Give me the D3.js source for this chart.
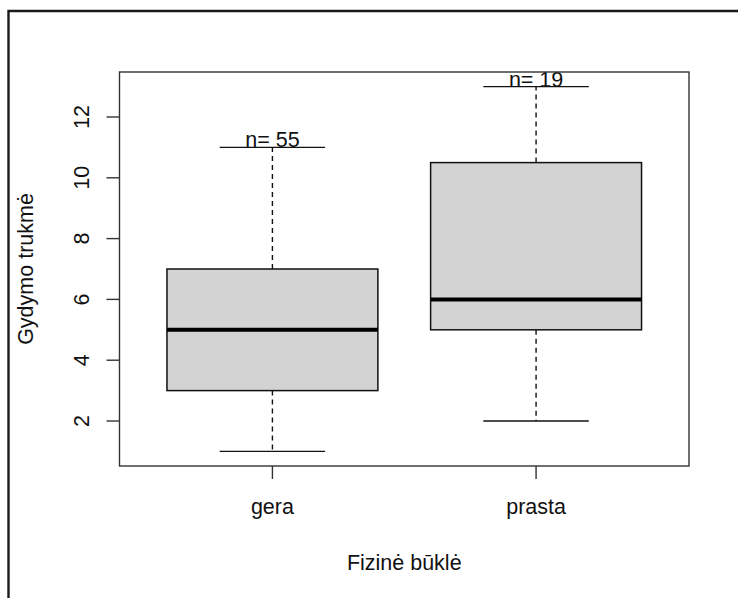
<!DOCTYPE html>
<html>
<head>
<meta charset="utf-8">
<script src="https://cdn.jsdelivr.net/npm/d3@7"></script>
<style>
  html, body { margin: 0; padding: 0; background: #fff; }
  svg { display: block; }
  text { font-family: "Liberation Sans", Arial, sans-serif; fill: #111; }
</style>
</head>
<body>
<script>
// Treatment duration by physical condition
const groups   = ["gera", "prasta"];
const counts   = [55, 19];
const mins     = [1, 2];
const q1s      = [3, 5];
const medians  = [5, 6];
const q3s      = [7, 10.5];
const maxs     = [11, 13];
const yTicks   = [2, 4, 6, 8, 10, 12];
const xTitle   = "Fizinė būklė";
const yTitle   = "Gydymo trukmė";

const W = 738, H = 598;
const plot = { left: 119.5, right: 689, top: 72, bottom: 466 };
const fontSize = 21.5;

const svg = d3.select("body").append("svg")
  .attr("width", W).attr("height", H);

// outer device frame
svg.append("path")
  .attr("d", `M8.5,${H + 5} L8.5,11 L${W + 5},11`)
  .attr("fill", "none").attr("stroke", "#1a1a1a").attr("stroke-width", 2.4);

const x = d3.scaleLinear().domain([0.42, 2.58]).range([plot.left, plot.right]);
const y = d3.scaleLinear().domain([0.52, 13.48]).range([plot.bottom, plot.top]);

const boxHalf = 0.4, capHalf = 0.2;

const g = svg.append("g");

groups.forEach((name, i) => {
  const cx = i + 1;
  // whiskers (dashed)
  [[q3s[i], maxs[i]], [q1s[i], mins[i]]].forEach(([a, b]) => {
    g.append("line")
      .attr("x1", x(cx)).attr("x2", x(cx))
      .attr("y1", y(a)).attr("y2", y(b))
      .attr("stroke", "#111").attr("stroke-width", 1.4).attr("stroke-dasharray", "5,4");
  });
  // caps
  [mins[i], maxs[i]].forEach(v => {
    g.append("line")
      .attr("x1", x(cx - capHalf)).attr("x2", x(cx + capHalf))
      .attr("y1", y(v)).attr("y2", y(v))
      .attr("stroke", "#111").attr("stroke-width", 1.4);
  });
  // box
  g.append("rect")
    .attr("x", x(cx - boxHalf)).attr("width", x(cx + boxHalf) - x(cx - boxHalf))
    .attr("y", y(q3s[i])).attr("height", y(q1s[i]) - y(q3s[i]))
    .attr("fill", "#d3d3d3").attr("stroke", "#111").attr("stroke-width", 1.5);
  // median
  g.append("line")
    .attr("x1", x(cx - boxHalf)).attr("x2", x(cx + boxHalf))
    .attr("y1", y(medians[i])).attr("y2", y(medians[i]))
    .attr("stroke", "#000").attr("stroke-width", 4);
  // sample size label
  g.append("text")
    .attr("x", x(cx)).attr("y", y(maxs[i]))
    .attr("text-anchor", "middle")
    .attr("font-size", fontSize)
    .text("n= " + counts[i]);
});

// plot box
svg.append("rect")
  .attr("x", plot.left).attr("y", plot.top)
  .attr("width", plot.right - plot.left).attr("height", plot.bottom - plot.top)
  .attr("fill", "none").attr("stroke", "#333").attr("stroke-width", 1.4);

// y axis ticks and rotated labels
yTicks.forEach(t => {
  svg.append("line")
    .attr("x1", plot.left - 13).attr("x2", plot.left)
    .attr("y1", y(t)).attr("y2", y(t))
    .attr("stroke", "#333").attr("stroke-width", 1.4);
  svg.append("text")
    .attr("transform", `translate(89,${y(t)}) rotate(-90)`)
    .attr("text-anchor", "middle")
    .attr("font-size", fontSize)
    .text(t);
});

// x axis ticks and labels
groups.forEach((name, i) => {
  svg.append("line")
    .attr("x1", x(i + 1)).attr("x2", x(i + 1))
    .attr("y1", plot.bottom).attr("y2", plot.bottom + 13)
    .attr("stroke", "#333").attr("stroke-width", 1.4);
  svg.append("text")
    .attr("x", x(i + 1)).attr("y", 514)
    .attr("text-anchor", "middle")
    .attr("font-size", fontSize)
    .text(name);
});

// axis titles
svg.append("text")
  .attr("x", (plot.left + plot.right) / 2).attr("y", 570)
  .attr("text-anchor", "middle")
  .attr("font-size", fontSize)
  .text(xTitle);

svg.append("text")
  .attr("transform", `translate(33,${(plot.top + plot.bottom) / 2}) rotate(-90)`)
  .attr("text-anchor", "middle")
  .attr("font-size", fontSize)
  .text(yTitle);
</script>
</body>
</html>
